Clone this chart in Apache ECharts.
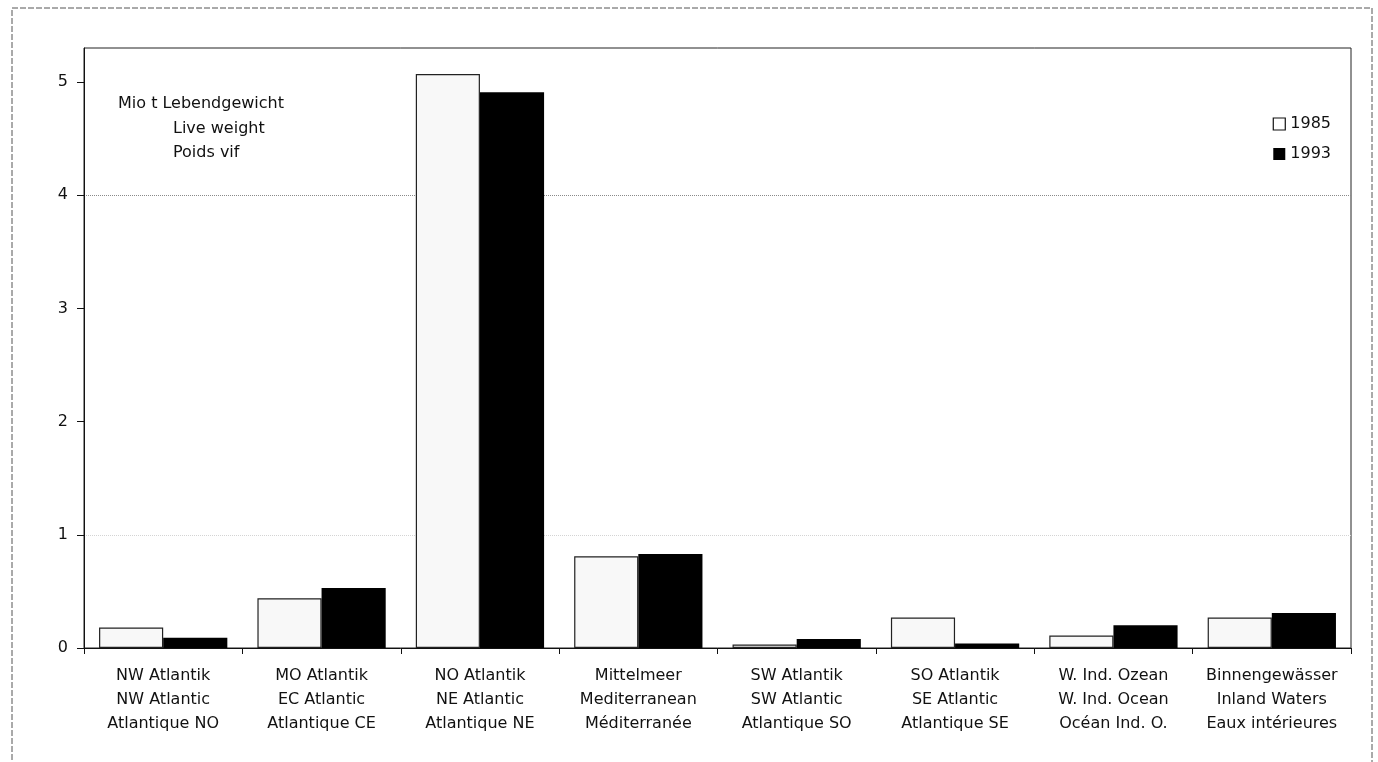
<!DOCTYPE html>
<html>
<head>
<meta charset="utf-8">
<script src="https://cdn.jsdelivr.net/npm/echarts@6/dist/echarts.min.js"></script>
<style>
  html, body { margin: 0; padding: 0; background: #fff; }
  #chart { width: 1378px; height: 762px; }
</style>
</head>
<body>
<div id="chart"></div>
<script>
// regions (de / en / fr)
const categories = [
  "NW Atlantik\nNW Atlantic\nAtlantique NO",
  "MO Atlantik\nEC Atlantic\nAtlantique CE",
  "NO Atlantik\nNE Atlantic\nAtlantique NE",
  "Mittelmeer\nMediterranean\nMéditerranée",
  "SW Atlantik\nSW Atlantic\nAtlantique SO",
  "SO Atlantik\nSE Atlantic\nAtlantique SE",
  "W. Ind. Ozean\nW. Ind. Ocean\nOcéan Ind. O.",
  "Binnengewässer\nInland Waters\nEaux intérieures"
];
const values1985 = [0.18, 0.44, 5.07, 0.81, 0.03, 0.27, 0.11, 0.27];
const values1993 = [0.09, 0.53, 4.91, 0.83, 0.08, 0.04, 0.20, 0.31];
const seriesNames = ["1985", "1993"];
const unitLines = ["Mio t Lebendgewicht", "Live weight", "Poids vif"];

const chart = echarts.init(document.getElementById("chart"));
const font = "DejaVu Sans, Liberation Sans, Arial, sans-serif";

const option = {
  animation: false,
  textStyle: { fontFamily: font },
  grid: { left: 84, right: 27, top: 48, bottom: 114 },
  legend: {
    orient: "vertical",
    right: 42,
    top: 111,
    icon: "rect",
    itemWidth: 12,
    itemHeight: 12,
    itemGap: 14,
    textStyle: { fontSize: 16, color: "#111", fontFamily: font },
    data: [
      { name: seriesNames[0], itemStyle: { color: "#fff", borderColor: "#111", borderWidth: 1.2 } },
      { name: seriesNames[1], itemStyle: { color: "#000" } }
    ]
  },
  xAxis: {
    type: "category",
    data: categories,
    axisLine: { lineStyle: { color: "#111", width: 1 } },
    axisTick: { show: true, length: 6, lineStyle: { color: "#111" } },
    axisLabel: {
      color: "#111",
      fontSize: 16,
      lineHeight: 24,
      margin: 16,
      interval: 0,
      fontFamily: font
    },
    splitLine: { show: false }
  },
  yAxis: {
    type: "value",
    min: 0,
    max: 5.3,
    interval: 1,
    axisLine: { show: true, lineStyle: { color: "#111" } },
    axisTick: { show: true, length: 7, lineStyle: { color: "#111" } },
    axisLabel: {
      color: "#111",
      fontSize: 16,
      margin: 16,
      showMaxLabel: false,
      fontFamily: font,
      formatter: v => (Number.isInteger(v) ? String(v) : "")
    },
    splitLine: {
      show: true,
      lineStyle: {
        type: "dotted",
        width: 1,
        color: ["rgba(0,0,0,0)", "#d4d4d4", "rgba(0,0,0,0)", "rgba(0,0,0,0)", "#8a8a8a", "rgba(0,0,0,0)"]
      }
    }
  },
  series: [
    {
      name: seriesNames[0],
      type: "bar",
      data: values1985,
      barGap: "0%",
      barCategoryGap: "19%",
      itemStyle: { color: "#f8f8f8", borderColor: "#222", borderWidth: 1.2 }
    },
    {
      name: seriesNames[1],
      type: "bar",
      data: values1993,
      itemStyle: { color: "#000" }
    }
  ],
  graphic: [
    {
      type: "rect",
      shape: { x: 12, y: 8, width: 1360, height: 760 },
      style: { fill: "none", stroke: "#555", lineWidth: 1, lineDash: [6, 2] },
      silent: true
    },
    {
      type: "rect",
      shape: { x: 84, y: 48, width: 1267, height: 600 },
      style: { fill: "none", stroke: "#222", lineWidth: 1 },
      silent: true
    },
    {
      type: "text",
      left: 118,
      top: 96,
      style: { text: unitLines[0], fontSize: 16, fill: "#111", fontFamily: font }
    },
    {
      type: "text",
      left: 173,
      top: 121,
      style: { text: unitLines[1], fontSize: 16, fill: "#111", fontFamily: font }
    },
    {
      type: "text",
      left: 173,
      top: 145,
      style: { text: unitLines[2], fontSize: 16, fill: "#111", fontFamily: font }
    }
  ]
};

chart.setOption(option);
</script>
</body>
</html>
